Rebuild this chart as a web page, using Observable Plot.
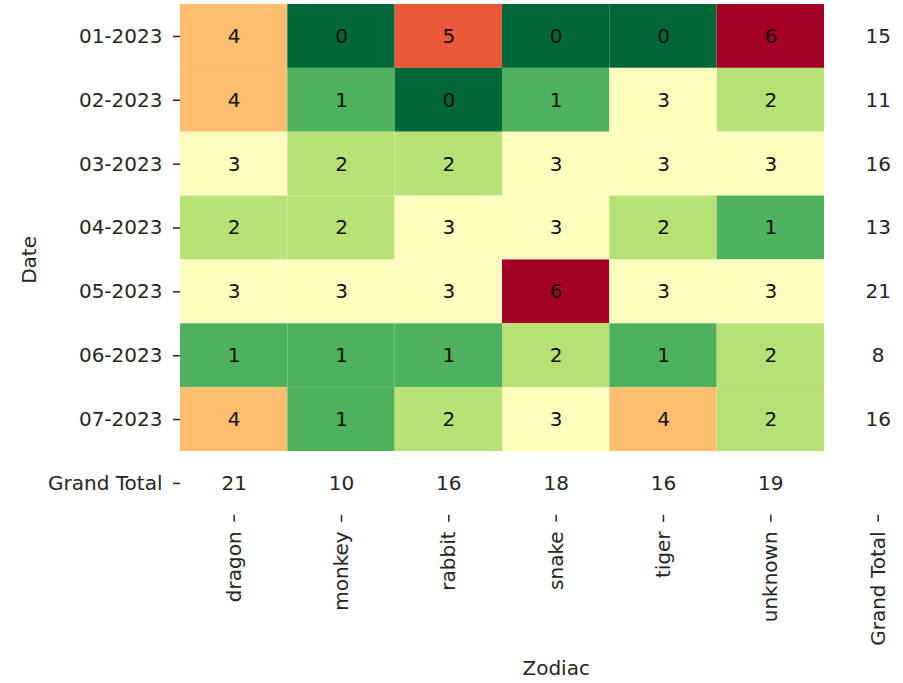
<!DOCTYPE html>
<html>
<head>
<meta charset="utf-8">
<script src="https://cdn.jsdelivr.net/npm/d3@7"></script>
<script src="https://cdn.jsdelivr.net/npm/@observablehq/plot@0.6"></script>
<style>
  body { margin: 0; background: #fff; }
</style>
</head>
<body>
<div id="chart"></div>
<script>
const dates = ["01-2023", "02-2023", "03-2023", "04-2023", "05-2023", "06-2023", "07-2023"];
const zodiacs = ["dragon", "monkey", "rabbit", "snake", "tiger", "unknown"];
const totalLabel = "Grand Total";

const dragon  = [4, 4, 3, 2, 3, 1, 4];
const monkey  = [0, 1, 2, 2, 3, 1, 1];
const rabbit  = [5, 0, 2, 3, 3, 1, 2];
const snake   = [0, 1, 3, 3, 6, 2, 3];
const tiger   = [0, 3, 3, 2, 3, 1, 4];
const unknown = [6, 2, 3, 1, 3, 2, 2];

const rowTotals = [15, 11, 16, 13, 21, 8, 16];
const colTotals = [21, 10, 16, 18, 16, 19];

const colorValues = [0, 1, 2, 3, 4, 5, 6];
const colorRange = ["#006837", "#4db15d", "#b7e075", "#feffbe", "#fdbf6f", "#ea593a", "#a50026"];

const series = {dragon, monkey, rabbit, snake, tiger, unknown};
const cells = [];
dates.forEach((d, i) => zodiacs.forEach(z => cells.push({date: d, zodiac: z, value: series[z][i]})));
const rowTot = dates.map((d, i) => ({date: d, zodiac: totalLabel, value: rowTotals[i]}));
const colTot = zodiacs.map((z, j) => ({date: totalLabel, zodiac: z, value: colTotals[j]}));

const W = 903, H = 683;
const mLeft = 180, mTop = 4;
const colW = (824 - 180) / 6;
const rowH = (451 - 4) / 7;
const FS = 20;

const chart = Plot.plot({
  width: W,
  height: H,
  marginLeft: mLeft,
  marginTop: mTop,
  marginRight: W - (mLeft + colW * 7),
  marginBottom: H - (mTop + rowH * 8),
  style: {fontFamily: "DejaVu Sans", fontSize: FS + "px", color: "#262626", background: "#fff", overflow: "visible"},
  x: {domain: [...zodiacs, totalLabel], padding: 0, round: false},
  y: {domain: [...dates, totalLabel], padding: 0, round: false},
  color: {type: "linear", domain: colorValues, range: colorRange, interpolate: "rgb"},
  marks: [
    Plot.cell(cells, {x: "zodiac", y: "date", fill: "value", inset: 0}),
    Plot.text(cells, {x: "zodiac", y: "date", text: d => String(d.value), fill: "#111", fontSize: FS}),
    Plot.text(rowTot, {x: "zodiac", y: "date", text: d => String(d.value), fill: "#262626", fontSize: FS}),
    Plot.text(colTot, {x: "zodiac", y: "date", text: d => String(d.value), fill: "#262626", fontSize: FS}),
    Plot.axisY({tickSize: 7, tickPadding: 11, stroke: "#262626", strokeWidth: 1.5, label: "Date", labelAnchor: "center", labelOffset: 159, fontSize: FS}),
    Plot.axisX({tickSize: 7, tickPadding: 9, tickRotate: -90, stroke: "#262626", strokeWidth: 1.5, label: "Zodiac", labelAnchor: "center", labelOffset: 160, fontSize: FS})
  ]
});
document.getElementById("chart").appendChild(chart);
</script>
</body>
</html>
